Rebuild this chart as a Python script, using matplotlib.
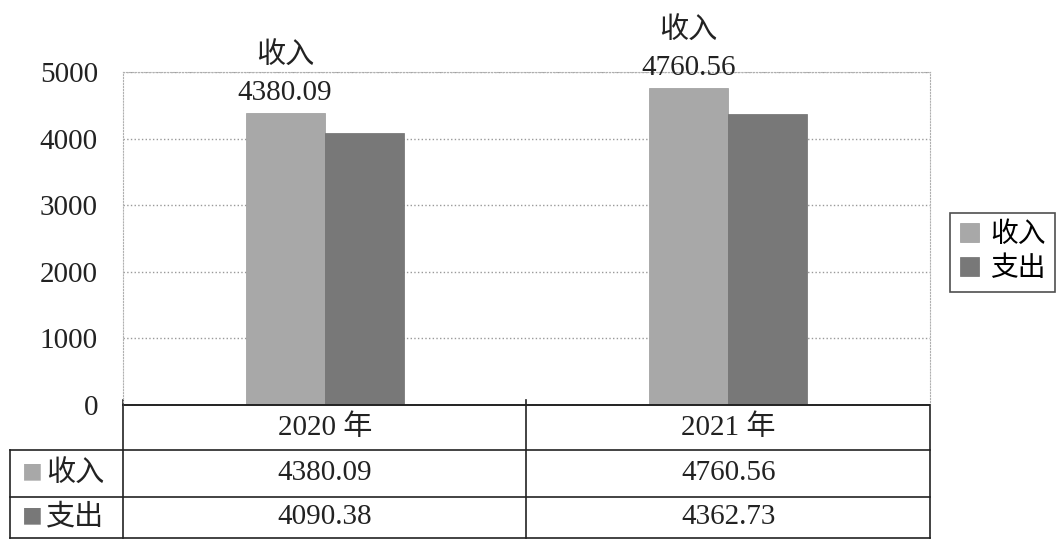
import matplotlib
matplotlib.use("Agg")
import matplotlib.pyplot as plt
import numpy as np

plt.rcParams['font.family'] = ['Liberation Serif', 'Noto Sans CJK SC', 'DejaVu Sans']

years = ['2020 年', '2021 年']
series = ['收入', '支出']
income = [4380.09, 4760.56]
expense = [4090.38, 4362.73]
values_txt = [['4380.09', '4760.56'], ['4090.38', '4362.73']]
colors = ['#a8a8a8', '#787878']
yticks = [0, 1000, 2000, 3000, 4000, 5000]


def main():
    fig = plt.figure(figsize=(10.59, 5.40), dpi=100)
    ax = fig.add_axes([0.1161, 0.25, 0.762, 0.6167])

    x = np.arange(len(years))
    w = 0.196
    b1 = ax.bar(x - w / 2, income, w, color=colors[0], edgecolor='#9a9a9a', linewidth=0.5, label=series[0])
    b2 = ax.bar(x + w / 2, expense, w, color=colors[1], edgecolor='#6e6e6e', linewidth=0.5, label=series[1])

    ax.set_xlim(-0.5, 1.5)
    ax.set_ylim(0, 5000)
    ax.set_yticks(yticks)
    ax.set_yticklabels([str(v) for v in yticks], fontsize=21, color='#222222')
    ax.tick_params(axis='y', length=0, pad=18)
    ax.set_xticks([])
    ax.yaxis.grid(True, linestyle=':', color='#999999', linewidth=1)
    ax.set_axisbelow(True)
    for s in ['left', 'top', 'right']:
        ax.spines[s].set_color('#b0b0b0')
        ax.spines[s].set_linestyle(':')
    ax.spines['bottom'].set_color('#222222')
    ax.spines['bottom'].set_linewidth(1.2)

    # data labels on the income bars (series name above the value)
    for rect, v in zip(b1, income):
        cx = rect.get_x() + rect.get_width() / 2
        ax.annotate('%.2f' % v, (cx, v), xytext=(0, 5), textcoords='offset points',
                    ha='center', va='bottom', fontsize=21, color='#222222')
        ax.annotate(series[0], (cx, v), xytext=(0, 32), textcoords='offset points',
                    ha='center', va='bottom', fontsize=21, color='#222222')

    # data table under the axis
    tr = ax.get_xaxis_transform()
    left = -0.78
    rows = [0, -0.135, -0.275, -0.40]
    lc = '#222222'
    ax.plot([-0.5, 1.5], [rows[0], rows[0]], color=lc, lw=1.2, transform=tr, clip_on=False)
    for yy in rows[1:]:
        ax.plot([left, 1.5], [yy, yy], color=lc, lw=1.2, transform=tr, clip_on=False)
    ax.plot([-0.5, -0.5], [0.015, rows[-1]], color=lc, lw=1.2, transform=tr, clip_on=False)
    ax.plot([0.5, 0.5], [0.015, rows[-1]], color=lc, lw=1.2, transform=tr, clip_on=False)
    ax.plot([1.5, 1.5], [0, rows[-1]], color=lc, lw=1.2, transform=tr, clip_on=False)
    ax.plot([left, left], [rows[1], rows[-1]], color=lc, lw=1.2, transform=tr, clip_on=False)

    for i, yr in enumerate(years):
        ax.text(x[i], (rows[0] + rows[1]) / 2, yr, transform=tr, ha='center', va='center',
                fontsize=21, color='#222222')
    for r in range(2):
        yc = (rows[r + 1] + rows[r + 2]) / 2
        ax.text(left + 0.03, yc, '■', transform=tr, ha='left', va='center', fontsize=15,
                color=colors[r], family=['Noto Sans CJK SC'])
        ax.text(left + 0.09, yc, series[r], transform=tr, ha='left', va='center', fontsize=21,
                color='#222222')
        for i in range(len(years)):
            ax.text(x[i], yc, values_txt[r][i], transform=tr, ha='center', va='center',
                    fontsize=21, color='#222222')

    leg = fig.legend(handles=[b1, b2], labels=series, loc='upper left', bbox_to_anchor=(0.897, 0.606),
                     fontsize=20, frameon=True, fancybox=False, edgecolor='#222222',
                     handlelength=0.7, handleheight=0.7, handletextpad=0.4, borderpad=0.35,
                     labelspacing=0.3, borderaxespad=0)
    leg.get_frame().set_linewidth(1.2)

    fig.savefig('out.png', dpi=100)


if __name__ == "__main__":
    main()
